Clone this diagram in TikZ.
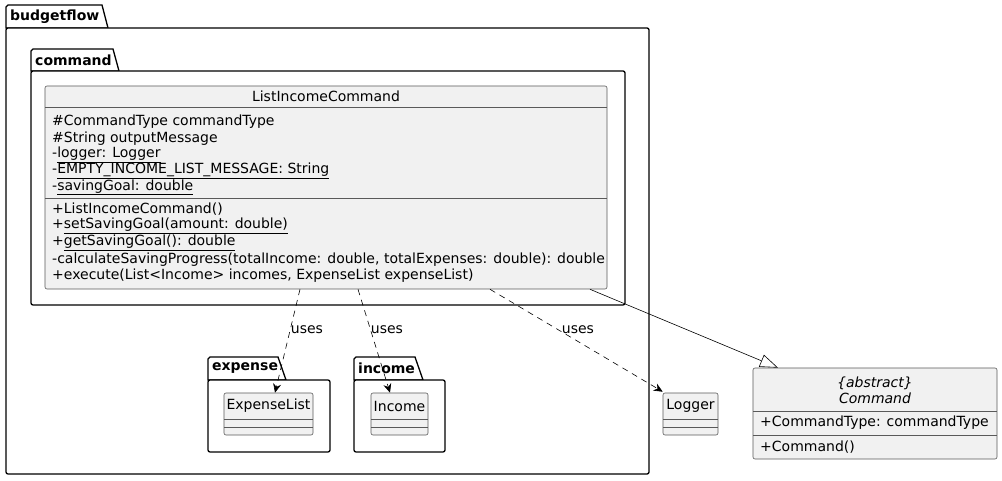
\documentclass[tikz,border=0pt]{standalone}
\usepackage{fontspec}
\setmainfont{DejaVu Sans}
\usetikzlibrary{arrows.meta}
\definecolor{umlfill}{HTML}{F1F1F1}

\begin{document}
\begin{tikzpicture}[x=1pt, y=-1pt,
    pkgline/.style={draw, line width=1.3pt, fill=white},
    pkgname/.style={anchor=west, inner sep=0pt, font=\fontsize{14}{16}\selectfont\bfseries},
    classbox/.style={draw=black!65, line width=0.6pt, fill=umlfill, rounded corners=2pt, inner sep=0pt},
    sepline/.style={draw=black!65, line width=0.6pt},
    member/.style={anchor=west, inner sep=0pt, font=\fontsize{14}{16}\selectfont},
    title/.style={inner sep=0pt, font=\fontsize{14}{16}\selectfont},
    uses/.style={dash pattern=on 6pt off 5pt, line width=0.6pt, -{Stealth[length=9pt, width=8pt, inset=3pt]}},
    usestext/.style={inner sep=0pt, font=\fontsize{14}{16}\selectfont},
    extends/.style={line width=0.6pt, -{Triangle[open, length=18pt, width=13pt, fill=white]}}]
  \useasboundingbox (0,0) rectangle (1002,481);

  % package budgetflow
  \draw[pkgline] (6,28) -- (6,7) -- (8,5) -- (102,5) -- (108,28) -- cycle;
  \draw[pkgline, rounded corners=2pt] (6,28) rectangle (649,474);
  \node[pkgname] (budgetflow) at (10,17) {budgetflow};

  % package command
  \draw[pkgline] (31,71) -- (31,51) -- (33,49) -- (113,49) -- (119,71) -- cycle;
  \draw[pkgline, rounded corners=2pt] (31,71) rectangle (625,305);
  \node[pkgname] (command) at (35,60) {command};

  % class ListIncomeCommand
  \node[classbox, minimum width=562pt, minimum height=203pt] (lic) at (326,187.5) {};
  \node[title] (licname) at (326,96) {ListIncomeCommand};
  \draw[sepline] (45,107) -- (607,107);
  \draw[sepline] (45,198) -- (607,198);
  \node[member] (a1) at (52,122) {\#CommandType commandType};
  \node[member] (a2) at (52,138.5) {\#String outputMessage};
  \node[member] (a3) at (52,155) {-\underline{logger: Logger}};
  \node[member] (a4) at (52,171) {-\underline{EMPTY\_INCOME\_LIST\_MESSAGE: String}};
  \node[member] (a5) at (52,187.5) {-\underline{savingGoal: double}};
  \node[member] (m1) at (52,209.5) {+ListIncomeCommand()};
  \node[member] (m2) at (52,226) {+\underline{setSavingGoal(amount: double)}};
  \node[member] (m3) at (52,243) {+\underline{getSavingGoal(): double}};
  \node[member] (m4) at (52,259.5) {-calculateSavingProgress(totalIncome: double, totalExpenses: double): double};
  \node[member] (m5) at (52,276) {+execute(List<Income> incomes, ExpenseList expenseList)};

  % package expense
  \draw[pkgline] (208,380) -- (208,359) -- (210,357) -- (278,357) -- (286,380) -- cycle;
  \draw[pkgline, rounded corners=2pt] (208,380) rectangle (330,452);
  \node[pkgname] (expense) at (212,368.5) {expense};
  \node[classbox, minimum width=89pt, minimum height=42pt] (el) at (268.5,414) {};
  \node[title] (elname) at (268.5,406) {ExpenseList};
  \draw[sepline] (224,419) -- (313,419);
  \draw[sepline] (224,427) -- (313,427);

  % package income
  \draw[pkgline] (354,380) -- (354,359) -- (356,357) -- (415,357) -- (423,380) -- cycle;
  \draw[pkgline, rounded corners=2pt] (354,380) rectangle (445,452);
  \node[pkgname] (income) at (358,368.5) {income};
  \node[classbox, minimum width=57pt, minimum height=42pt] (inc) at (399.5,414) {};
  \node[title] (incname) at (399.5,406) {Income};
  \draw[sepline] (371,419) -- (428,419);
  \draw[sepline] (371,427) -- (428,427);

  % class Logger
  \node[classbox, minimum width=55pt, minimum height=42pt] (log) at (690.5,414) {};
  \node[title] (logname) at (690.5,406) {Logger};
  \draw[sepline] (663,419) -- (718,419);
  \draw[sepline] (663,427) -- (718,427);

  % class Command
  \node[classbox, minimum width=244pt, minimum height=91pt] (cmd) at (875,413.5) {};
  \node[title, font=\fontsize{14}{16}\selectfont\itshape] (cmdstereo) at (875,383) {\{abstract\}};
  \node[title, font=\fontsize{14}{16}\selectfont\itshape] (cmdname) at (875,398.5) {Command};
  \draw[sepline] (753,411) -- (997,411);
  \draw[sepline] (753,435) -- (997,435);
  \node[member] (c1) at (760,423) {+CommandType: commandType};
  \node[member] (c2) at (760,447) {+Command()};

  % relations
  \draw[uses] ([xshift=-26pt]lic.south) -- ([xshift=6.5pt]el.north);
  \draw[uses] ([xshift=32pt]lic.south) -- ([xshift=-9.5pt]inc.north);
  \draw[uses] ([xshift=164pt]lic.south) -- ([yshift=1pt]log.north west);
  \draw[extends] ([xshift=264pt]lic.south) -- ([xshift=-97pt]cmd.north);
  \node[usestext] (u1) at (307,330) {uses};
  \node[usestext] (u2) at (387,330) {uses};
  \node[usestext] (u3) at (578,330) {uses};
\end{tikzpicture}
\end{document}
